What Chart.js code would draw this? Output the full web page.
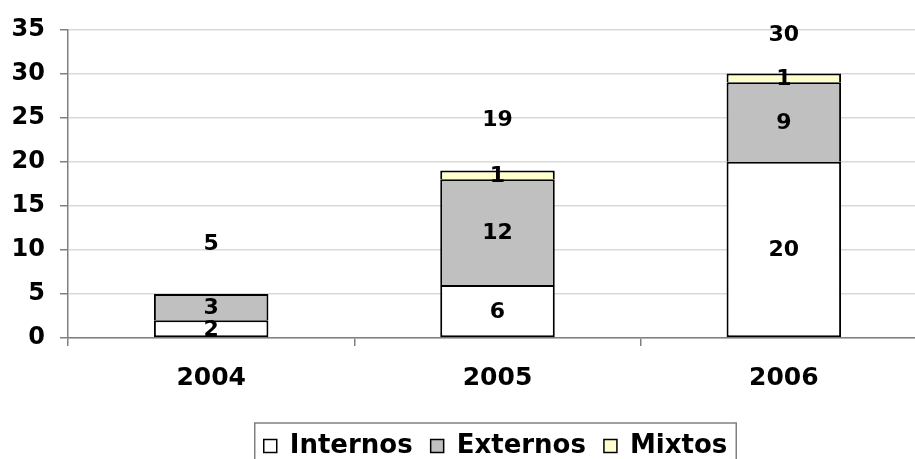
<!DOCTYPE html>
<html>
<head>
<meta charset="utf-8">
<script src="https://cdn.jsdelivr.net/npm/chart.js@4.4.0/dist/chart.umd.min.js"></script>
<style>
  html, body { margin: 0; padding: 0; background: #fff; overflow: hidden; }
  #wrap { position: relative; width: 927px; height: 469px; }
</style>
</head>
<body>
<div id="wrap"><canvas id="myChart"></canvas></div>
<script>
// Values
const years = ['2004', '2005', '2006'];
const internos = [2, 6, 20];
const externos = [3, 12, 9];
const mixtos = [0, 1, 1];
const yTicks = [0, 5, 10, 15, 20, 25, 30, 35];

const totals = years.map((y, i) => internos[i] + externos[i] + mixtos[i]);

const FONT = "'DejaVu Sans', Verdana, sans-serif";
const LEGEND_SHIFT = 32;

// Numbers in each segment and the totals over the stacks
const segLabels = {
  id: 'segLabels',
  afterDatasetsDraw(chart) {
    const ctx = chart.ctx;
    ctx.save();
    ctx.fillStyle = '#000';
    ctx.textAlign = 'center';
    ctx.textBaseline = 'middle';
    ctx.font = 'bold 22px ' + FONT;
    chart.data.datasets.forEach((ds, di) => {
      chart.getDatasetMeta(di).data.forEach((bar, i) => {
        if (!ds.data[i]) return;
        ctx.fillText(ds.data[i], bar.x, (bar.y + bar.base) / 2 + 1);
      });
    });
    const x = chart.scales.x, y = chart.scales.y;
    totals.forEach((t, i) => {
      const py = Math.max(y.getPixelForValue(t) - 50, chart.chartArea.top + 6);
      ctx.fillText(t, x.getPixelForValue(i), py);
    });
    ctx.restore();
  }
};

// Legend sits a bit right of centre in the original, and has a frame
const legendFrame = {
  id: 'legendFrame',
  afterLayout(chart) {
    chart.legend.left += LEGEND_SHIFT;
    chart.legend.right += LEGEND_SHIFT;
  },
  afterDraw(chart) {
    const boxes = chart.legend.legendHitBoxes;
    if (!boxes || !boxes.length) return;
    const a = boxes[0], b = boxes[boxes.length - 1];
    const mid = a.top + a.height / 2;
    const ctx = chart.ctx;
    ctx.save();
    ctx.strokeStyle = '#808080';
    ctx.lineWidth = 1.5;
    ctx.strokeRect(a.left - 9, mid - 23, b.left + b.width - a.left + 18, 60);
    ctx.restore();
  }
};

const side = { top: 2, bottom: 0, left: 2, right: 2 };

const ctx = document.getElementById('myChart');

new Chart(ctx, {
  type: 'bar',
  data: {
    labels: years,
    datasets: [
      { label: 'Internos', data: internos, backgroundColor: '#ffffff', borderWidth: 2 },
      { label: 'Externos', data: externos, backgroundColor: '#c0c0c0', borderWidth: side },
      { label: 'Mixtos', data: mixtos, backgroundColor: '#ffffcc', borderWidth: side }
    ]
  },
  options: {
    responsive: true,
    maintainAspectRatio: false,
    animation: false,
    devicePixelRatio: 1,
    datasets: {
      bar: {
        borderColor: '#000',
        borderSkipped: false,
        categoryPercentage: 1,
        barPercentage: 0.4
      }
    },
    layout: { padding: { top: 25, left: 0, right: 0, bottom: 0 } },
    scales: {
      x: {
        stacked: true,
        grid: { drawOnChartArea: false, offset: true, tickLength: 8, color: '#808080', lineWidth: 1.5 },
        border: { color: '#808080', width: 1.5 },
        ticks: { color: '#000', font: { family: FONT, size: 25, weight: 'bold' }, padding: 17 },
        afterFit: s => { s.height = 77; }
      },
      y: {
        stacked: true,
        min: 0,
        max: 35,
        grid: { color: '#d9d9d9', lineWidth: 1.5, tickLength: 8, tickColor: '#808080' },
        border: { color: '#808080', width: 1.5 },
        ticks: { color: '#000', font: { family: FONT, size: 24, weight: 'bold' }, padding: 15 },
        afterBuildTicks: s => { s.ticks = yTicks.map(v => ({ value: v })); },
        afterFit: s => { s.width = 68; }
      }
    },
    plugins: {
      tooltip: { enabled: false },
      legend: {
        position: 'bottom',
        labels: {
          color: '#000',
          font: { family: FONT, size: 26, weight: 'bold' },
          boxWidth: 13,
          boxHeight: 13,
          padding: 18,
          generateLabels: chart => Chart.defaults.plugins.legend.labels.generateLabels(chart)
            .map(l => Object.assign(l, { lineWidth: 1.5, strokeStyle: '#000' }))
        }
      }
    }
  },
  plugins: [segLabels, legendFrame]
});
</script>
</body>
</html>
